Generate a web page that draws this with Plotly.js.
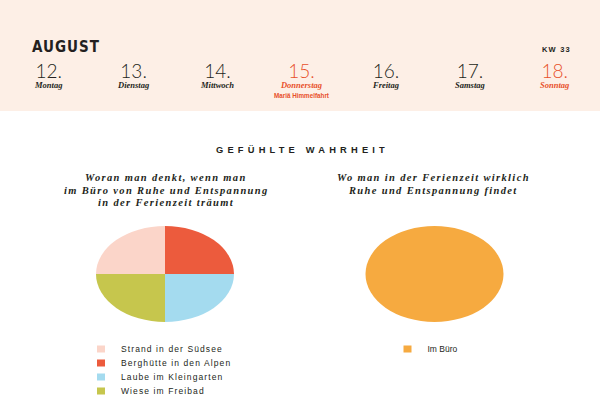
<!DOCTYPE html>
<html><head><meta charset="utf-8">
<script src="https://cdn.plot.ly/plotly-3.0.1.min.js"></script>
<style>
body{margin:0;padding:0;background:#fff;}
#chart{width:600px;height:414px;}
.legendtext{letter-spacing:1.1px;}
</style>
</head><body>
<div id="chart"></div>
<script>
// ---- data ----
const monthLabel = 'AUGUST';
const weekLabel = 'KW 33';
const dayNumbers = ['12.', '13.', '14.', '15.', '16.', '17.', '18.'];
const dayNames = ['Montag', 'Dienstag', 'Mittwoch', 'Donnerstag', 'Freitag', 'Samstag', 'Sonntag'];
const dayHighlight = [false, false, false, true, false, false, true];
const holidayNames = ['', '', '', 'Mariä Himmelfahrt', '', '', ''];
const chartTitle = 'GEFÜHLTE WAHRHEIT';
const subtitle1 = ['Woran man denkt, wenn man', 'im Büro von Ruhe und Entspannung', 'in der Ferienzeit träumt'];
const subtitle2 = ['Wo man in der Ferienzeit wirklich', 'Ruhe und Entspannung findet'];
const labels1 = ['Strand in der Südsee', 'Berghütte in den Alpen', 'Laube im Kleingarten', 'Wiese im Freibad'];
const values1 = [25, 25, 25, 25];
const labels2 = ['Im Büro'];
const values2 = [100];

// ---- styling / layout ----
const W = 600, H = 414;
const colors1 = ['#fbd5c9', '#ec5b3d', '#a4dbef', '#c6c64d'];
const colors2 = ['#f6aa40'];
const red = '#e8502a', dark = '#231f20';
const dayX = [48, 133, 217, 302, 386, 470, 555];
const px = x => x / W, py = y => 1 - y / H;

const pieH = 96, pieW = 138;
const pie1C = [165, 274], pie2C = [434.5, 274];
function dom(c) {
  return {x: [px(c[0] - pieW / 2), px(c[0] + pieW / 2)], y: [py(c[1] + pieH / 2), py(c[1] - pieH / 2)]};
}

const traces = [
  {type: 'pie', labels: labels1, values: values1, sort: false, direction: 'clockwise', rotation: 270,
   marker: {colors: colors1, line: {width: 0}}, textinfo: 'none', hoverinfo: 'label',
   domain: dom(pie1C), legend: 'legend'},
  {type: 'pie', labels: labels2, values: values2, sort: false, direction: 'clockwise', rotation: 0,
   marker: {colors: colors2, line: {width: 0}}, textinfo: 'none', hoverinfo: 'label',
   domain: dom(pie2C), legend: 'legend2'}
];

const ann = [];
const A = (o) => ann.push(Object.assign({xref: 'paper', yref: 'paper', showarrow: false, xanchor: 'center', yanchor: 'middle'}, o));
A({text: '<span style="letter-spacing:1px">' + monthLabel + '</span>', x: px(30), y: py(47.5), xanchor: 'left',
   font: {family: 'DejaVu Sans Condensed, Liberation Sans Narrow, Arial', size: 15, color: dark, weight: 700}});
A({text: '<span style="letter-spacing:1.2px">' + weekLabel + '</span>', x: px(556), y: py(50),
   font: {family: 'Liberation Sans, Arial', size: 7.5, color: dark, weight: 700}});
dayNumbers.forEach((d, i) => {
  const c = dayHighlight[i] ? red : dark;
  let t = '<span style="font-family:Lato;font-weight:300;font-size:19px">' + d + '</span>' +
          '<br><span style="font-family:Liberation Serif;font-style:italic;font-weight:700;font-size:8.5px">' + dayNames[i] + '</span>';
  if (holidayNames[i]) t += '<br><span style="font-family:Liberation Sans;font-weight:700;font-size:6.3px">' + holidayNames[i] + '</span>';
  A({text: t, x: px(dayX[i]), y: py(57), yanchor: 'top',
     font: {family: 'Liberation Sans, Arial', size: 7.5, color: c}});
});
A({text: '<span style="letter-spacing:4.2px">' + chartTitle + '</span>', x: px(302), y: py(150),
   font: {family: 'Liberation Sans, Arial', size: 9.3, color: dark, weight: 700}});
const subFont = {family: 'Liberation Serif, serif', size: 10.5, color: dark, style: 'italic', weight: 700};
subtitle1.forEach((t, i) => A({text: '<span style="letter-spacing:1.35px">' + t + '</span>', x: px(166), y: py(177 + i * 13), font: subFont}));
subtitle2.forEach((t, i) => A({text: '<span style="letter-spacing:1.35px">' + t + '</span>', x: px(433), y: py(177 + i * 13), font: subFont}));

const legFont = {family: 'Liberation Sans, Arial', size: 8.5, color: dark};
const layout = {
  width: W, height: H, margin: {l: 0, r: 0, t: 0, b: 0},
  paper_bgcolor: '#ffffff', plot_bgcolor: '#ffffff', showlegend: true,
  shapes: [{type: 'rect', xref: 'paper', yref: 'paper', x0: 0, x1: 1, y0: py(111), y1: 1,
            fillcolor: '#fdefe6', line: {width: 0}, layer: 'below'}],
  annotations: ann,
  legend: {x: px(81), y: py(322), xanchor: 'left', yanchor: 'top', bgcolor: 'rgba(0,0,0,0)',
           font: legFont, itemwidth: 30, tracegroupgap: 0, traceorder: 'normal'},
  legend2: {x: px(387.5), y: py(322), xanchor: 'left', yanchor: 'top', bgcolor: 'rgba(0,0,0,0)',
           font: legFont, itemwidth: 30, tracegroupgap: 0}
};

Plotly.newPlot('chart', traces, layout, {staticPlot: true, displayModeBar: false}).then(gd => {
  const root = gd.getBoundingClientRect();
  const parse = el => {
    const m = /translate\(([-\d.]+)[,\s]+([-\d.]+)\)/.exec(el.getAttribute('transform') || '');
    return m ? [+m[1], +m[2]] : [0, 0];
  };
  // stretch pies into ellipses as in the reference
  const centers = [pie1C, pie2C];
  const sx = pieW / pieH;
  gd.querySelectorAll('.pielayer g.trace').forEach((g, i) => {
    const c = centers[i];
    g.setAttribute('transform', `translate(${c[0]},${c[1]}) scale(${sx},1) translate(${-c[0]},${-c[1]})`);
  });
  // tighter legend rows (14px) and smaller swatches, first row centred at y=349
  const firstRowY = 349, rowGap = 14;
  ['legend', 'legend2'].forEach(id => {
    const lg = gd.querySelector('g.' + id);
    if (!lg) return;
    lg.querySelectorAll('path.legendpie').forEach(p => p.setAttribute('d', 'M4,3.5H-4V-3.5H4Z'));
    const items = lg.querySelectorAll('g.traces');
    if (!items.length) return;
    const p0 = parse(items[0]);
    items.forEach((it, i) => {
      const p = parse(it);
      it.setAttribute('transform', `translate(${p[0]},${p0[1] + i * rowGap})`);
    });
    const r0 = items[0].querySelector('path.legendpie').getBoundingClientRect();
    const delta = firstRowY - (r0.top + r0.height / 2 - root.top);
    const lp = parse(lg);
    lg.setAttribute('transform', `translate(${lp[0]},${lp[1] + delta})`);
  });
});
</script>
</body></html>
